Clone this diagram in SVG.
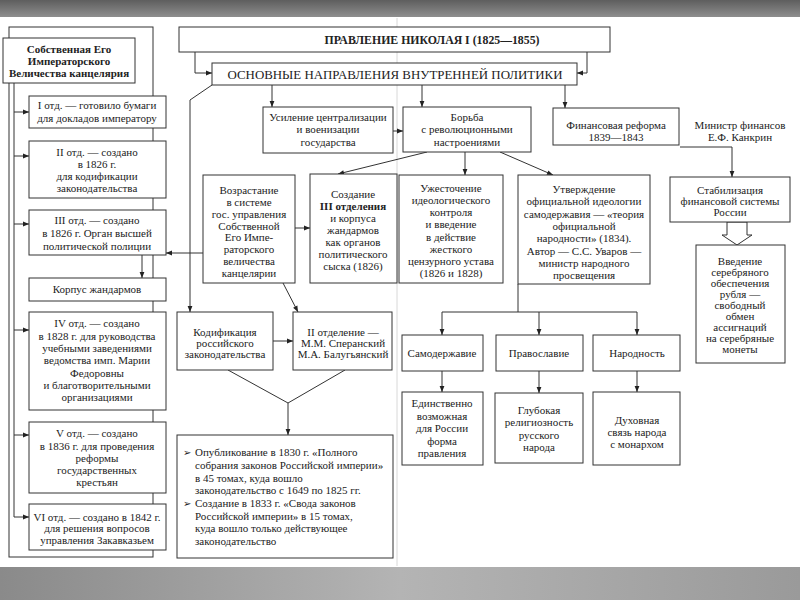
<svg xmlns="http://www.w3.org/2000/svg" width="800" height="600" viewBox="0 0 800 600">
<defs>
<linearGradient id="gt" x1="0" y1="0" x2="0" y2="1"><stop offset="0" stop-color="#5e5e5e"/><stop offset="1" stop-color="#8e8e8e"/></linearGradient>
<linearGradient id="gb" x1="0" y1="0" x2="1" y2="0"><stop offset="0" stop-color="#8a8a8a"/><stop offset="0.5" stop-color="#b4b4b4"/><stop offset="1" stop-color="#9a9a9a"/></linearGradient>
<marker id="a" viewBox="0 0 10 10" refX="10" refY="5" markerWidth="8" markerHeight="6" orient="auto" markerUnits="userSpaceOnUse"><path d="M0,1 L10,5 L0,9 z" fill="#222"/></marker>
<style>
.b{fill:#fff;stroke:#333;stroke-width:1}
.t{font-family:"Liberation Serif","Times New Roman",serif;font-size:11px;fill:#222;text-anchor:middle}
.l{font-family:"Liberation Serif","Times New Roman",serif;font-size:11px;fill:#222}
.bd{font-weight:bold}
.c{stroke:#333;stroke-width:1;fill:none}
.ar{marker-end:url(#a)}
.bul{font-family:"DejaVu Sans",sans-serif;font-size:10px;fill:#222}
</style>
</defs>
<rect x="0" y="0" width="800" height="600" fill="#fff"/>
<rect x="0" y="0" width="800" height="17" fill="url(#gt)"/>
<rect x="0" y="567" width="800" height="33" fill="url(#gb)"/>
<line x1="397" y1="18" x2="397" y2="566" stroke="#d8d8d8" stroke-width="1"/>

<g id="connectors">
<rect class="c" x="9" y="27" width="144" height="530"/>
<path class="c" d="M14 83 V517"/>
<path class="c ar" d="M14 112 H29"/>
<path class="c ar" d="M14 156 H29"/>
<path class="c ar" d="M14 224 H29"/>
<path class="c ar" d="M14 330 H29"/>
<path class="c ar" d="M14 435 H29"/>
<path class="c ar" d="M14 517 H29"/>
<path class="c ar" d="M142 255 V278"/>
<path class="c ar" d="M203 253 H166"/>
<path class="c ar" d="M195 52 V73 H212"/>
<path class="c ar" d="M587 52 V73 H577"/>
<path class="c ar" d="M272 85 V107"/>
<path class="c ar" d="M422 85 V107"/>
<path class="c ar" d="M565 85 V108"/>
<path class="c ar" d="M212 85 L190 100 V312"/>
<path class="c ar" d="M393 131 H403"/>
<path class="c ar" d="M427 152 L338 174"/>
<path class="c ar" d="M465 152 V175"/>
<path class="c ar" d="M500 152 L553 175"/>
<path class="c ar" d="M680 147 H732 V177"/>
<polygon points="727,222 747,222 747,235 752,235 737,245 722,235 727,235" fill="#fff" stroke="#333" stroke-width="1"/>
<path class="c ar" d="M295 228 H310"/>
<path class="c ar" d="M283 283 L298 312"/>
<path class="c" d="M518 284 V312 M442 312 H637"/>
<path class="c ar" d="M442 312 V335"/>
<path class="c ar" d="M539 312 V335"/>
<path class="c ar" d="M637 312 V335"/>
<path class="c ar" d="M442 371 V392"/>
<path class="c ar" d="M539 371 V393"/>
<path class="c ar" d="M637 371 V392"/>
<path class="c ar" d="M273 341 H293"/>
<path class="c" d="M228 370 L288 403 L345 370"/>
<path class="c ar" d="M288 403 V435"/>
</g>

<g id="n-chancellery">
<rect class="b" x="3" y="38" width="132" height="45"/>
<text class="t bd" x="69" y="53">Собственная Его</text>
<text class="t bd" x="69" y="65">Императорского</text>
<text class="t bd" x="69" y="77">Величества канцелярия</text>
</g>
<g id="n-otd1">
<rect class="b" x="29" y="96" width="137" height="32"/>
<text class="t" x="97" y="109">I отд. — готовило бумаги</text>
<text class="t" x="97" y="122">для докладов императору</text>
</g>
<g id="n-otd2">
<rect class="b" x="29" y="141" width="137" height="57"/>
<text class="t" x="97" y="156">II отд. — создано</text>
<text class="t" x="97" y="168">в 1826 г.</text>
<text class="t" x="97" y="180">для кодификации</text>
<text class="t" x="97" y="192">законодательства</text>
</g>
<g id="n-otd3">
<rect class="b" x="29" y="210" width="137" height="45"/>
<text class="t" x="97" y="224">III отд. — создано</text>
<text class="t" x="97" y="237">в 1826 г. Орган высшей</text>
<text class="t" x="97" y="250">политической полиции</text>
</g>
<g id="n-korpus">
<rect class="b" x="29" y="278" width="137" height="23"/>
<text class="t" x="97" y="293">Корпус жандармов</text>
</g>
<g id="n-otd4">
<rect class="b" x="29" y="312" width="137" height="98"/>
<text class="t" x="97" y="327">IV отд. — создано</text>
<text class="t" x="97" y="340">в 1828 г. для руководства</text>
<text class="t" x="97" y="352">учебными заведениями</text>
<text class="t" x="97" y="364">ведомства имп. Марии</text>
<text class="t" x="97" y="377">Федоровны</text>
<text class="t" x="97" y="389">и благотворительными</text>
<text class="t" x="97" y="401">организациями</text>
</g>
<g id="n-otd5">
<rect class="b" x="29" y="422" width="137" height="71"/>
<text class="t" x="97" y="437">V отд. — создано</text>
<text class="t" x="97" y="450">в 1836 г. для проведения</text>
<text class="t" x="97" y="462">реформы</text>
<text class="t" x="97" y="474">государственных</text>
<text class="t" x="97" y="486">крестьян</text>
</g>
<g id="n-otd6">
<rect class="b" x="29" y="504" width="137" height="46"/>
<text class="t" x="97" y="521">VI отд. — создано в 1842 г.</text>
<text class="t" x="97" y="532">для решения вопросов</text>
<text class="t" x="97" y="544">управления Закавказьем</text>
</g>

<g id="n-title">
<rect class="b" x="179" y="27" width="431" height="25"/>
<text class="t bd" x="432" y="44" style="font-size:11.8px">ПРАВЛЕНИЕ НИКОЛАЯ I (1825—1855)</text>
</g>
<g id="n-main">
<rect class="b" x="212" y="63" width="365" height="22"/>
<text class="t" x="395" y="78.5" style="font-size:12.9px">ОСНОВНЫЕ НАПРАВЛЕНИЯ ВНУТРЕННЕЙ ПОЛИТИКИ</text>
</g>
<g id="n-central">
<rect class="b" x="263" y="107" width="130" height="46"/>
<text class="t" x="328" y="121">Усиление централизации</text>
<text class="t" x="328" y="133">и военизации</text>
<text class="t" x="328" y="146">государства</text>
</g>
<g id="n-borba">
<rect class="b" x="403" y="107" width="128" height="45"/>
<text class="t" x="467" y="121">Борьба</text>
<text class="t" x="467" y="133">с революционными</text>
<text class="t" x="467" y="146">настроениями</text>
</g>
<g id="n-finref">
<rect class="b" x="553" y="108" width="126" height="37"/>
<text class="t" x="616" y="129">Финансовая реформа</text>
<text class="t" x="616" y="141">1839—1843</text>
</g>
<g id="n-kankrin">
<text class="t" x="740" y="129">Министр финансов</text>
<text class="t" x="740" y="141">Е.Ф. Канкрин</text>
</g>
<g id="n-stab">
<rect class="b" x="670" y="177" width="120" height="45"/>
<text class="t" x="730" y="194">Стабилизация</text>
<text class="t" x="730" y="205">финансовой системы</text>
<text class="t" x="730" y="216">России</text>
</g>
<g id="n-silver">
<rect class="b" x="696" y="245" width="89" height="118"/>
<text class="t" x="740" y="265">Введение</text>
<text class="t" x="740" y="276">серебряного</text>
<text class="t" x="740" y="287">обеспечения</text>
<text class="t" x="740" y="298">рубля —</text>
<text class="t" x="740" y="309">свободный</text>
<text class="t" x="740" y="320">обмен</text>
<text class="t" x="740" y="331">ассигнаций</text>
<text class="t" x="740" y="342">на серебряные</text>
<text class="t" x="740" y="353">монеты</text>
</g>
<g id="n-vozr">
<rect class="b" x="203" y="175" width="92" height="108"/>
<text class="t" x="249" y="194">Возрастание</text>
<text class="t" x="249" y="206">в системе</text>
<text class="t" x="249" y="218">гос. управления</text>
<text class="t" x="249" y="230">Собственной</text>
<text class="t" x="249" y="241">Его Импе-</text>
<text class="t" x="249" y="253">раторского</text>
<text class="t" x="249" y="265">величества</text>
<text class="t" x="249" y="277">канцелярии</text>
</g>
<g id="n-sozd">
<rect class="b" x="310" y="174" width="87" height="109"/>
<text class="t" x="353" y="198">Создание</text>
<text class="t bd" x="353" y="210">III отделения</text>
<text class="t" x="353" y="222">и корпуса</text>
<text class="t" x="353" y="234">жандармов</text>
<text class="t" x="353" y="246">как органов</text>
<text class="t" x="353" y="258">политического</text>
<text class="t" x="353" y="270">сыска (1826)</text>
</g>
<g id="n-uzh">
<rect class="b" x="399" y="175" width="104" height="108"/>
<text class="t" x="451" y="192">Ужесточение</text>
<text class="t" x="451" y="204">идеологического</text>
<text class="t" x="451" y="216">контроля</text>
<text class="t" x="451" y="228">и введение</text>
<text class="t" x="451" y="241">в действие</text>
<text class="t" x="451" y="253">жесткого</text>
<text class="t" x="451" y="265">цензурного устава</text>
<text class="t" x="451" y="277">(1826 и 1828)</text>
</g>
<g id="n-utv">
<rect class="b" x="518" y="175" width="132" height="109"/>
<text class="t" x="584" y="193">Утверждение</text>
<text class="t" x="584" y="205">официальной идеологии</text>
<text class="t" x="584" y="218">самодержавия — «теория</text>
<text class="t" x="584" y="230">официальной</text>
<text class="t" x="584" y="242">народности» (1834).</text>
<text class="t" x="584" y="255">Автор — С.С. Уваров —</text>
<text class="t" x="584" y="267">министр народного</text>
<text class="t" x="584" y="279">просвещения</text>
</g>
<g id="n-samod">
<rect class="b" x="402" y="335" width="81" height="36"/>
<text class="t" x="442" y="357">Самодержавие</text>
</g>
<g id="n-prav">
<rect class="b" x="496" y="335" width="87" height="36"/>
<text class="t" x="539" y="357">Православие</text>
</g>
<g id="n-narod">
<rect class="b" x="593" y="335" width="87" height="36"/>
<text class="t" x="637" y="357">Народность</text>
</g>
<g id="n-edin">
<rect class="b" x="402" y="392" width="81" height="73"/>
<text class="t" x="442" y="407">Единственно</text>
<text class="t" x="442" y="420">возможная</text>
<text class="t" x="442" y="432">для России</text>
<text class="t" x="442" y="445">форма</text>
<text class="t" x="442" y="457">правления</text>
</g>
<g id="n-glub">
<rect class="b" x="495" y="393" width="88" height="70"/>
<text class="t" x="539" y="414">Глубокая</text>
<text class="t" x="539" y="426">религиозность</text>
<text class="t" x="539" y="439">русского</text>
<text class="t" x="539" y="451">народа</text>
</g>
<g id="n-duh">
<rect class="b" x="593" y="392" width="87" height="73"/>
<text class="t" x="637" y="424">Духовная</text>
<text class="t" x="637" y="436">связь народа</text>
<text class="t" x="637" y="448">с монархом</text>
</g>
<g id="n-kodif">
<rect class="b" x="177" y="312" width="96" height="58"/>
<text class="t" x="225" y="336">Кодификация</text>
<text class="t" x="225" y="347">российского</text>
<text class="t" x="225" y="358">законодательства</text>
</g>
<g id="n-otd2b">
<rect class="b" x="293" y="312" width="99" height="58"/>
<text class="t" x="343" y="336">II отделение —</text>
<text class="t" x="343" y="347">М.М. Сперанский</text>
<text class="t" x="343" y="358">М.А. Балугьянский</text>
</g>
<g id="n-publ">
<rect class="b" x="177" y="435" width="216" height="123"/>
<text class="bul" x="183" y="456">➢</text>
<text class="l" x="195" y="456">Опубликование в 1830 г. «Полного</text>
<text class="l" x="195" y="469">собрания законов Российской империи»</text>
<text class="l" x="195" y="482">в 45 томах, куда вошло</text>
<text class="l" x="195" y="494">законодательство с 1649 по 1825 гг.</text>
<text class="bul" x="183" y="507">➢</text>
<text class="l" x="195" y="507">Создание в 1833 г. «Свода законов</text>
<text class="l" x="195" y="520">Российской империи» в 15 томах,</text>
<text class="l" x="195" y="532">куда вошло только действующее</text>
<text class="l" x="195" y="545">законодательство</text>
</g>
</svg>
